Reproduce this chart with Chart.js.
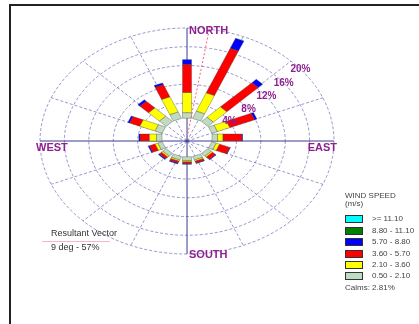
<!DOCTYPE html>
<html lang="en">
<head>
<meta charset="UTF-8">
<title>Wind Rose</title>
<script src="https://cdn.jsdelivr.net/npm/chart.js"></script>
<style>
    html, body { margin: 0; padding: 0; background: #fff; }
    .wrap {
        position: relative; width: 419px; height: 324px; overflow: hidden;
        font-family: 'Liberation Sans', Arial, sans-serif;
    }
    .wrap canvas { position: absolute; left: 0; top: 0; }
    .frame-top  { position: absolute; left: 9px; top: 4px; right: 0; height: 2px; background: #222; }
    .frame-left { position: absolute; left: 9px; top: 4px; bottom: 0; width: 2px; background: #222; }
    .txt { position: absolute; white-space: nowrap; line-height: 10px; }
    .legend-txt { font-size: 8px; color: #444; }
    .swatch { position: absolute; width: 16px; height: 6px; border: 1px solid #333; }
    .result-txt { font-size: 9px; color: #333; }
    .result-line { position: absolute; left: 42px; top: 241px; width: 68px; height: 1px; background: #f5b8c4; }
</style>
</head>
<body>

<div class="wrap" id="wrap">
    <canvas id="rose"></canvas>
    <div class="frame-top"></div>
    <div class="frame-left"></div>

    <div class="txt result-txt" style="left:51px; top:228px;">Resultant Vector</div>
    <div class="result-line"></div>
    <div class="txt result-txt" style="left:51px; top:242px;" id="resultTxt"></div>

    <div class="txt legend-txt" style="left:345px; top:191px;">WIND SPEED</div>
    <div class="txt legend-txt" style="left:345px; top:199px;">(m/s)</div>
    <div id="legend"></div>
    <div class="txt legend-txt" style="left:345px; top:283px;" id="calmTxt"></div>
</div>

<script>
// direcciones (sentido horario desde el norte)
const directions = ['N','NNE','NE','ENE','E','ESE','SE','SSE','S','SSW','SW','WSW','W','WNW','NW','NNW'];

// frecuencia (%) por clase de velocidad
const spd050_210  = [1.2, 1.7, 1.3, 1.0, 0.9, 0.8, 0.8, 0.8, 0.8, 0.8, 0.8, 0.8, 0.9, 1.3, 1.6, 1.5];
const spd210_360  = [4.3, 4.2, 3.1, 2.2, 0.9, 0.6, 0.3, 0.3, 0.3, 0.3, 0.3, 0.5, 1.2, 2.7, 2.5, 3.5];
const spd360_570  = [6.0, 10.3, 7.3, 4.4, 3.1, 1.8, 0.7, 0.4, 0.4, 0.4, 0.5, 1.0, 1.5, 1.8, 2.0, 2.8];
const spd570_880  = [1.0, 2.3, 1.0, 0.4, 0.1, 0.1, 0.1, 0.1, 0.1, 0.2, 0.2, 0.2, 0.2, 0.3, 0.45, 0.4];
const spd880_1110 = [0, 0, 0, 0, 0, 0, 0, 0, 0, 0, 0, 0, 0, 0, 0, 0];
const spdOver1110 = [0, 0, 0, 0, 0, 0, 0, 0, 0, 0, 0, 0, 0, 0, 0, 0];

const binLabels = ['>= 11.10', '8.80 - 11.10', '5.70 - 8.80', '3.60 - 5.70', '2.10 - 3.60', '0.50 - 2.10'];
const binColors = ['#00ffff', '#008000', '#0000ff', '#ff0000', '#ffff00', '#c0dcc0'];

const ringValues = [4, 8, 12, 16, 20];
const ringLabels = ['4%', '8%', '12%', '16%', '20%'];
const compassLabels = ['NORTH', 'EAST', 'SOUTH', 'WEST'];

const calmsPct = 2.81;
const resultantDeg = 9;
const resultantPct = 57;

// de lenta a rapida, en orden de apilado
const stackOrder = [spd050_210, spd210_360, spd360_570, spd570_880, spd880_1110, spdOver1110];
const stackColors = ['#c0dcc0', '#ffff00', '#ff0000', '#0000ff', '#008000', '#00ffff'];

const INNER = 4.1;      // radio del circulo de calmas
const BAR_HALF = 0.74;  // media anchura de barra
const BAR_OY = 0.75;    // el origen de las barras queda algo por encima del cruce de ejes
const OUTER = INNER + ringValues[ringValues.length - 1];
const labelAngles = [59, 56.5, 54, 52, 50.5];
const purple = '#8e2090';

const rosePlugin = {
    id: 'rose',
    beforeDatasetsDraw(chart) {
        const ctx = chart.ctx;
        const xs = chart.scales.x, ys = chart.scales.y;
        const pt = (r, deg, oy = 0) => {
            const a = deg * Math.PI / 180;
            return [xs.getPixelForValue(r * Math.sin(a)), ys.getPixelForValue(oy + r * Math.cos(a))];
        };
        const toPx = (dx, dy) => [xs.getPixelForValue(dx), ys.getPixelForValue(dy + BAR_OY)];
        const cx = xs.getPixelForValue(0), cy = ys.getPixelForValue(0);

        ctx.save();

        // anillos
        ctx.strokeStyle = 'rgba(80,80,175,0.75)';
        ctx.lineWidth = 0.8;
        ctx.setLineDash([3, 2]);
        ringValues.forEach(v => {
            const R = INNER + v;
            const rx = xs.getPixelForValue(R) - cx;
            const ry = cy - ys.getPixelForValue(R);
            ctx.beginPath();
            ctx.ellipse(cx, cy, rx, ry, 0, 0, Math.PI * 2);
            ctx.stroke();
        });

        // radios
        directions.forEach((d, i) => {
            if (i % 4 === 0) return;
            const [ex, ey] = pt(OUTER, i * 22.5);
            ctx.beginPath();
            ctx.moveTo(cx, cy);
            ctx.lineTo(ex, ey);
            ctx.stroke();
        });

        // ejes principales
        ctx.setLineDash([]);
        ctx.strokeStyle = '#3a3a90';
        ctx.lineWidth = 1;
        [0, 90].forEach(deg => {
            const [ax, ay] = pt(OUTER, deg);
            const [bx, by] = pt(OUTER, deg + 180);
            ctx.beginPath();
            ctx.moveTo(ax, ay);
            ctx.lineTo(bx, by);
            ctx.stroke();
        });

        // barras apiladas
        ctx.lineWidth = 0.6;
        ctx.strokeStyle = 'rgba(60,60,60,0.6)';
        directions.forEach((d, i) => {
            const a = i * 22.5 * Math.PI / 180;
            const ux = Math.sin(a), uy = Math.cos(a);
            const qx = Math.cos(a), qy = -Math.sin(a);
            let r1 = INNER;
            stackOrder.forEach((serie, k) => {
                const v = serie[i];
                if (!v) return;
                const r2 = r1 + v;
                const corners = [
                    toPx(ux * r1 + qx * BAR_HALF, uy * r1 + qy * BAR_HALF),
                    toPx(ux * r2 + qx * BAR_HALF, uy * r2 + qy * BAR_HALF),
                    toPx(ux * r2 - qx * BAR_HALF, uy * r2 - qy * BAR_HALF),
                    toPx(ux * r1 - qx * BAR_HALF, uy * r1 - qy * BAR_HALF)
                ];
                ctx.beginPath();
                ctx.moveTo(corners[0][0], corners[0][1]);
                corners.slice(1).forEach(c => ctx.lineTo(c[0], c[1]));
                ctx.closePath();
                ctx.fillStyle = stackColors[k];
                ctx.fill();
                ctx.stroke();
                r1 = r2;
            });
        });

        // vector resultante
        ctx.strokeStyle = '#ff5a6e';
        ctx.lineWidth = 1;
        ctx.setLineDash([2, 2]);
        const [ox, oy] = toPx(0, 0);
        const [rxE, ryE] = pt(OUTER, resultantDeg, BAR_OY);
        ctx.beginPath();
        ctx.moveTo(ox, oy);
        ctx.lineTo(rxE, ryE);
        ctx.stroke();
        ctx.setLineDash([]);

        // etiquetas de porcentaje
        ctx.fillStyle = purple;
        ctx.font = 'bold 10px "Liberation Sans", Arial, sans-serif';
        ctx.textAlign = 'center';
        ctx.textBaseline = 'middle';
        ringValues.forEach((v, k) => {
            const [lx, ly] = pt(INNER + v, labelAngles[k]);
            ctx.fillText(ringLabels[k], lx, ly);
        });

        // puntos cardinales
        ctx.font = 'bold 11px "Liberation Sans", Arial, sans-serif';
        const [nx, ny] = pt(OUTER, 0);
        ctx.textAlign = 'left';
        ctx.fillText(compassLabels[0], nx + 2, ny + 3);
        const [ex2, ey2] = pt(OUTER, 90);
        ctx.textAlign = 'right';
        ctx.fillText(compassLabels[1], ex2 + 3, ey2 + 7);
        const [sx, sy] = pt(OUTER, 180);
        ctx.textAlign = 'left';
        ctx.fillText(compassLabels[2], sx + 2, sy + 1);
        const [wx, wy] = pt(OUTER, 270);
        ctx.fillText(compassLabels[3], wx - 4, wy + 7);

        ctx.restore();
    }
};

// leyenda
const legend = document.getElementById('legend');
binLabels.forEach((lab, i) => {
    const yc = 219.3 + i * 11.4;
    const sw = document.createElement('div');
    sw.className = 'swatch';
    sw.style.left = '345px';
    sw.style.top = (yc - 4) + 'px';
    sw.style.background = binColors[i];
    legend.appendChild(sw);
    const t = document.createElement('div');
    t.className = 'txt legend-txt';
    t.style.left = '372px';
    t.style.top = (yc - 5) + 'px';
    t.textContent = lab;
    legend.appendChild(t);
});
document.getElementById('calmTxt').textContent = 'Calms: ' + calmsPct.toFixed(2) + '%';
document.getElementById('resultTxt').textContent = resultantDeg + ' deg - ' + resultantPct + '%';

const canvas = document.getElementById('rose');
canvas.width = 419;
canvas.height = 324;

new Chart(canvas.getContext('2d'), {
    type: 'scatter',
    data: { datasets: [{ data: [] }] },
    options: {
        responsive: false,
        animation: false,
        layout: { padding: 0 },
        plugins: { legend: { display: false }, tooltip: { enabled: false } },
        scales: {
            x: { type: 'linear', display: false, min: -30.66, max: 38.03 },
            y: { type: 'linear', display: false, min: -39.02, max: 30.07 }
        }
    },
    plugins: [rosePlugin]
});
</script>

</body>
</html>
